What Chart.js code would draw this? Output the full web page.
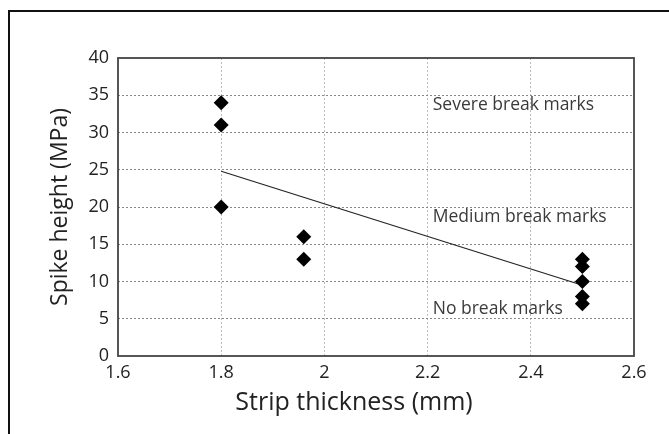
<!DOCTYPE html>
<html>
<head>
<meta charset="utf-8">
<script src="https://cdn.jsdelivr.net/npm/chart.js@4"></script>
<style>
  html, body { margin: 0; padding: 0; background: #fff; }
  #wrap { position: relative; width: 669px; height: 434px; overflow: hidden; }
  #frame {
    position: absolute; left: 8px; top: 10px; right: -20px; bottom: -20px;
    border-left: 2px solid #111; border-top: 2px solid #111;
    pointer-events: none;
  }
  canvas { position: absolute; left: 0; top: 0; }
</style>
</head>
<body>
<div id="wrap">
  <canvas id="chart" width="669" height="434"></canvas>
  <div id="frame"></div>
</div>
<script>
// Measured points
const thickness = [1.8, 1.8, 1.8, 1.96, 1.96, 2.5, 2.5, 2.5, 2.5, 2.5];
const spikeHeight = [34, 31, 20, 16, 13, 13, 12, 10, 8, 7];

// Boundary line
const trendX = [1.8, 2.5];
const trendY = [24.8, 9.5];

// Zone labels
const zoneLabels = ['Severe break marks', 'Medium break marks', 'No break marks'];
const zoneX = [2.21, 2.21, 2.21];
const zoneY = [33.7, 18.7, 6.3];

const xTicks = [1.6, 1.8, 2, 2.2, 2.4, 2.6];
const yTicks = [0, 5, 10, 15, 20, 25, 30, 35, 40];
const xTitle = 'Strip thickness (mm)';
const yTitle = 'Spike height (MPa)';

const FONT = '"Open Sans", "DejaVu Sans", sans-serif';

// Plot frame, zone labels, x title
const extras = {
    id: 'extras',
    afterDraw(chart) {
        const ctx = chart.ctx;
        const a = chart.chartArea;
        const xs = chart.scales.x, ys = chart.scales.y;
        ctx.save();
        ctx.strokeStyle = '#444';
        ctx.lineWidth = 1.8;
        ctx.strokeRect(a.left, a.top, a.right - a.left, a.bottom - a.top);

        ctx.fillStyle = '#3a3a3a';
        ctx.font = '17.5px ' + FONT;
        ctx.textBaseline = 'middle';
        ctx.textAlign = 'left';
        zoneLabels.forEach((t, i) => {
            ctx.fillText(t, xs.getPixelForValue(zoneX[i]), ys.getPixelForValue(zoneY[i]));
        });

        ctx.fillStyle = '#222';
        ctx.font = '25px ' + FONT;
        ctx.textAlign = 'center';
        ctx.fillText(xTitle, (a.left + a.right) / 2 - 22, 403);
        ctx.restore();
    }
};

new Chart(document.getElementById('chart'), {
    data: {
        datasets: [
            {
                type: 'scatter',
                data: thickness.map((x, i) => ({ x: x, y: spikeHeight[i] })),
                pointStyle: 'rectRot',
                pointRadius: 7.5,
                backgroundColor: '#000',
                borderColor: '#000',
                borderWidth: 0
            },
            {
                type: 'line',
                data: trendX.map((x, i) => ({ x: x, y: trendY[i] })),
                borderColor: '#222',
                borderWidth: 1.2,
                pointRadius: 0,
                tension: 0
            }
        ]
    },
    options: {
        responsive: false,
        animation: false,
        layout: { padding: { left: 0, top: 58, right: 35, bottom: 0 } },
        plugins: { legend: { display: false }, tooltip: { enabled: false } },
        scales: {
            x: {
                type: 'linear',
                min: 1.6,
                max: 2.6,
                afterFit: s => { s.height = 78; },
                afterBuildTicks: s => { s.ticks = xTicks.map(v => ({ value: v })); },
                ticks: {
                    padding: 6,
                    color: '#222',
                    font: { family: FONT, size: 18 },
                    callback: v => String(Number(v.toFixed(1)))
                },
                grid: {
                    drawTicks: false,
                    color: c => (c.tick && (c.tick.value === 1.6 || c.tick.value === 2.6)) ? 'rgba(0,0,0,0)' : '#bbb',
                    lineWidth: 1
                },
                border: { display: false, dash: [2, 2] }
            },
            y: {
                type: 'linear',
                min: 0,
                max: 40,
                afterFit: s => { s.width = 118; },
                afterBuildTicks: s => { s.ticks = yTicks.map(v => ({ value: v })); },
                ticks: {
                    padding: 9,
                    color: '#222',
                    font: { family: FONT, size: 18 }
                },
                grid: {
                    drawTicks: false,
                    color: c => (c.tick && (c.tick.value === 0 || c.tick.value === 40)) ? 'rgba(0,0,0,0)' : '#888',
                    lineWidth: 1
                },
                border: { display: false, dash: [2, 2] },
                title: {
                    display: true,
                    text: yTitle,
                    color: '#222',
                    font: { family: FONT, size: 23 },
                    padding: { top: 47, bottom: 0 }
                }
            }
        }
    },
    plugins: [extras]
});
</script>
</body>
</html>
